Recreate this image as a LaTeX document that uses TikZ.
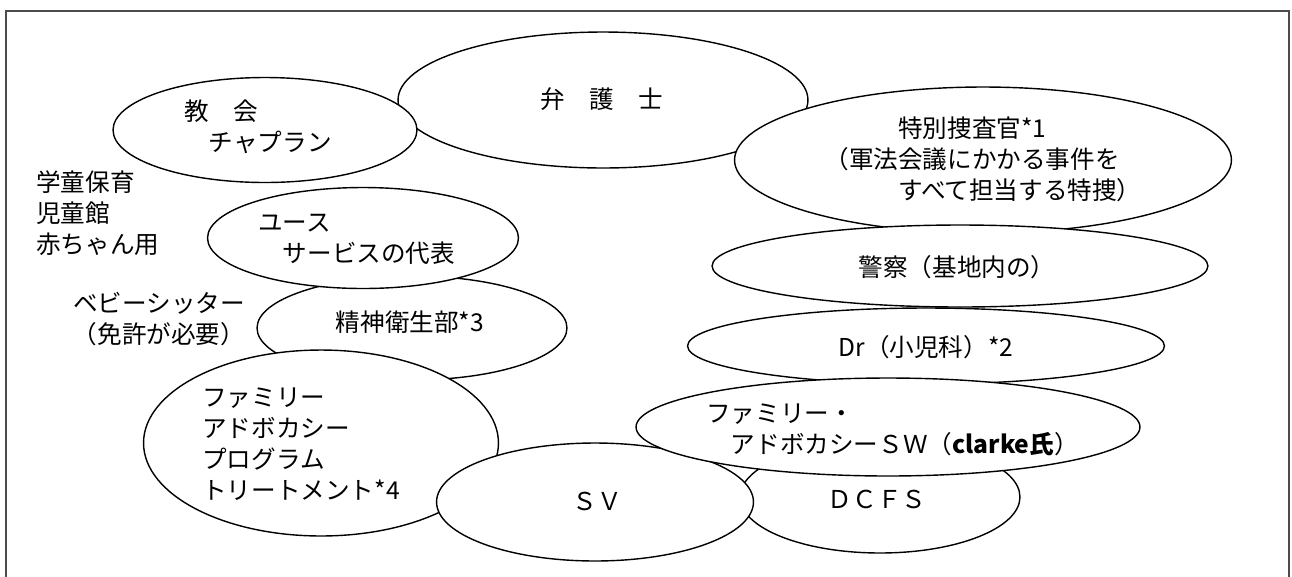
\documentclass[tikz,border=0pt]{standalone}
\usepackage{fontspec}
\setmainfont{Noto Sans CJK JP}
\usetikzlibrary{shapes.geometric}

\tikzset{
  blob/.style={draw, ellipse, fill=white, line width=0.8pt, inner sep=0pt},
  lbl/.style={inner sep=0pt, align=left, font=\fontsize{14}{17.6}\selectfont},
}

\begin{document}
\begin{tikzpicture}[x=0.02cm, y=-0.02cm]
\useasboundingbox (0,0) rectangle (1292,576);
% Frame (open at the bottom)
\draw[black!70, line width=0.8pt] (6,590) -- (6,11) -- (1289,11) -- (1289,590);

% Free labels on the left
\node[lbl, anchor=west] (gakudo) at (36,213) {学童保育\\児童館\\赤ちゃん用};
\node[lbl, align=center] (sitter) at (159,319) {ベビーシッター\\（免許が必要）};

% Ellipses, back to front
\node[blob, minimum width=8.2cm, minimum height=2.72cm] (bengoshi) at (603,100) {};
\node[lbl] (bengoshi-t) at (602,99) {弁　護　士};

\node[blob, minimum width=6.08cm, minimum height=2.1cm] (kyokai) at (265,130) {};
\node[lbl, anchor=west] (kyokai-t) at (184,127) {教　会\\　チャプラン};

\node[blob, minimum width=9.94cm, minimum height=2.92cm] (tokuso) at (983,160) {};
\node[lbl] (tokuso-t) at (983,159) {　　　特別捜査官*1\\（軍法会議にかかる事件を\\　　　すべて担当する特捜）};

\node[blob, minimum width=9.92cm, minimum height=1.64cm] (keisatsu) at (960,266) {};
\node[lbl] (keisatsu-t) at (957,267) {警察（基地内の）};

\node[blob, minimum width=9.54cm, minimum height=1.52cm] (doctor) at (926,346) {};
\node[lbl] (doctor-t) at (926,347) {Dr（小児科）*2};

\node[blob, minimum width=5.6cm, minimum height=2.24cm] (dcfs) at (880,497) {};
\node[lbl] (dcfs-t) at (877,499) {ＤＣＦＳ};

\node[blob, minimum width=6.2cm, minimum height=2.08cm] (seishin) at (412,328) {};
\node[lbl] (seishin-t) at (410,322) {精神衛生部*3};

\node[blob, minimum width=6.22cm, minimum height=2.02cm] (youth) at (363,238) {};
\node[lbl, anchor=west] (youth-t) at (258,239) {ユース\\　サービスの代表};

\node[blob, minimum width=7.1cm, minimum height=3.72cm] (fap) at (321,443) {};
\node[lbl, anchor=west] (fap-t) at (202,444) {ファミリー\\アドボカシー\\プログラム\\トリートメント*4};

\node[blob, minimum width=6.34cm, minimum height=2.36cm] (sv) at (595,502) {};
\node[lbl] (sv-t) at (597,501) {ＳＶ};

\node[blob, minimum width=10.08cm, minimum height=1.96cm] (sw) at (888,427) {};
\node[lbl, anchor=west] (sw-t) at (706,430) {ファミリー・\\　アドボカシーＳＷ（{\bfseries clarke氏}）};

\end{tikzpicture}
\end{document}
